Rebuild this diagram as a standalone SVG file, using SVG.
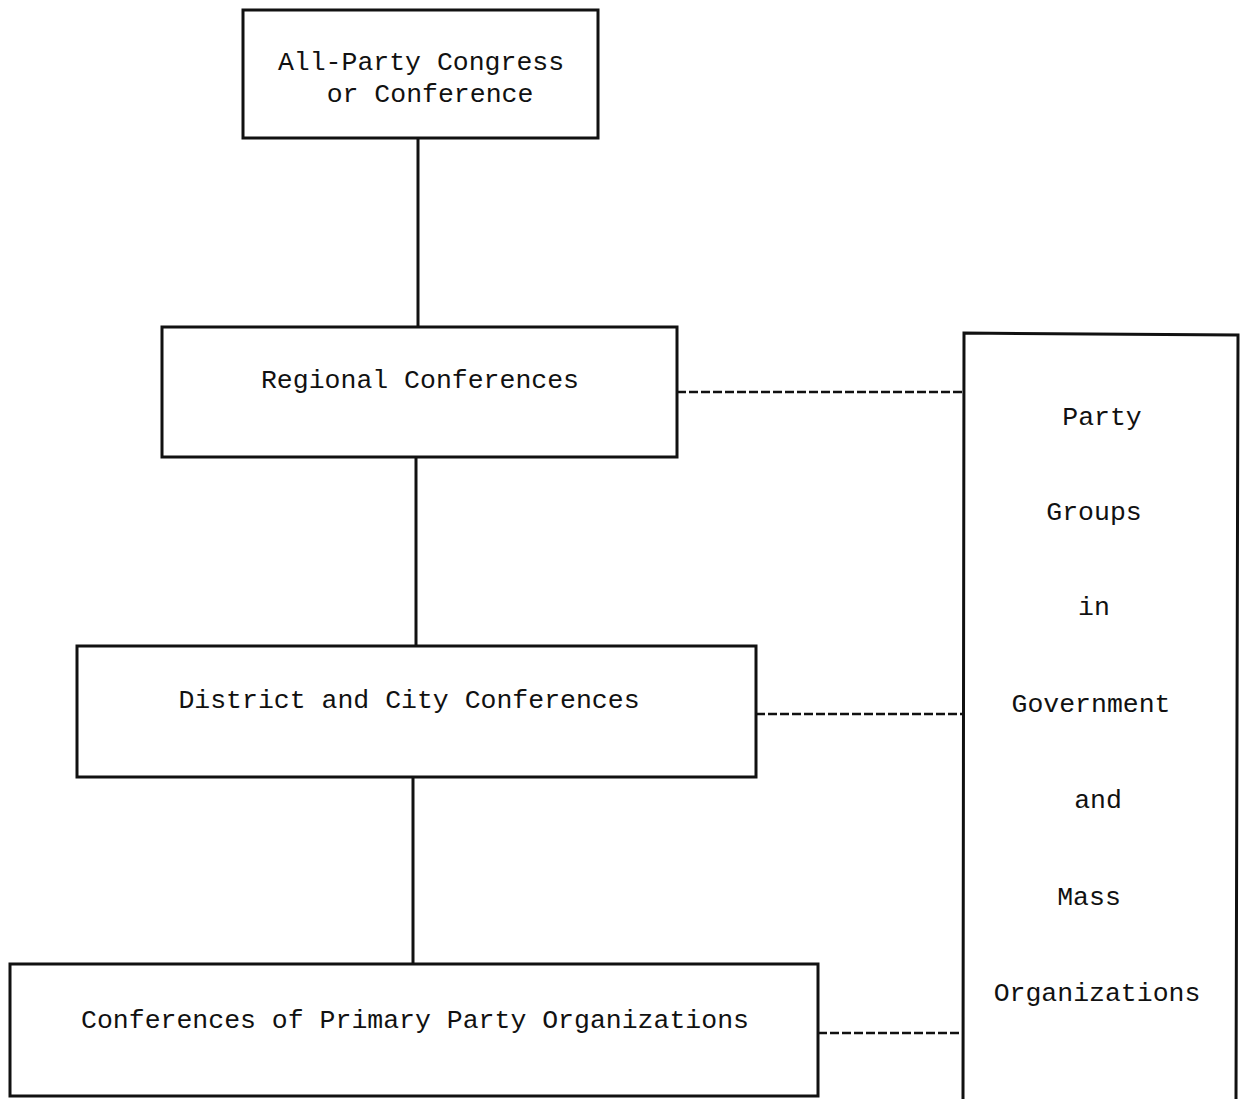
<svg xmlns="http://www.w3.org/2000/svg" width="1241" height="1099" viewBox="0 0 1241 1099">
<style>
.box{fill:none;stroke:#111;stroke-width:3}
.ln{stroke:#111;stroke-width:3;fill:none}
.dash{stroke:#111;stroke-width:2.5;stroke-dasharray:9 3;fill:none}
text{font-family:"Liberation Mono","DejaVu Sans Mono",monospace;font-size:26.5px;fill:#111;text-anchor:middle}
</style>
<rect width="1241" height="1099" fill="#fff"/>
<g id="connectors">
<line class="ln" x1="418" y1="138" x2="418" y2="327"/>
<line class="ln" x1="416" y1="457" x2="416" y2="646"/>
<line class="ln" x1="413" y1="777" x2="413" y2="964"/>
<line class="dash" x1="677" y1="392" x2="964" y2="392"/>
<line class="dash" x1="756" y1="714" x2="963" y2="714"/>
<line class="dash" x1="818" y1="1033" x2="962" y2="1033"/>
</g>
<g id="all-party">
<rect class="box" x="243" y="10" width="355" height="128"/>
<text x="421" y="70">All-Party Congress</text>
<text x="430" y="102">or Conference</text>
</g>
<g id="regional">
<rect class="box" x="162" y="327" width="515" height="130"/>
<text x="420" y="388">Regional Conferences</text>
</g>
<g id="district">
<rect class="box" x="77" y="646" width="679" height="131"/>
<text x="409" y="708">District and City Conferences</text>
</g>
<g id="primary">
<rect class="box" x="10" y="964" width="808" height="132"/>
<text x="415" y="1028">Conferences of Primary Party Organizations</text>
</g>
<g id="party-groups">
<path class="box" d="M963 1099 L964 333 L1238 335 L1236 1099"/>
<text x="1102" y="425">Party</text>
<text x="1094" y="520">Groups</text>
<text x="1094" y="615">in</text>
<text x="1091" y="712">Government</text>
<text x="1098" y="808">and</text>
<text x="1089" y="905">Mass</text>
<text x="1097" y="1001">Organizations</text>
</g>
</svg>
